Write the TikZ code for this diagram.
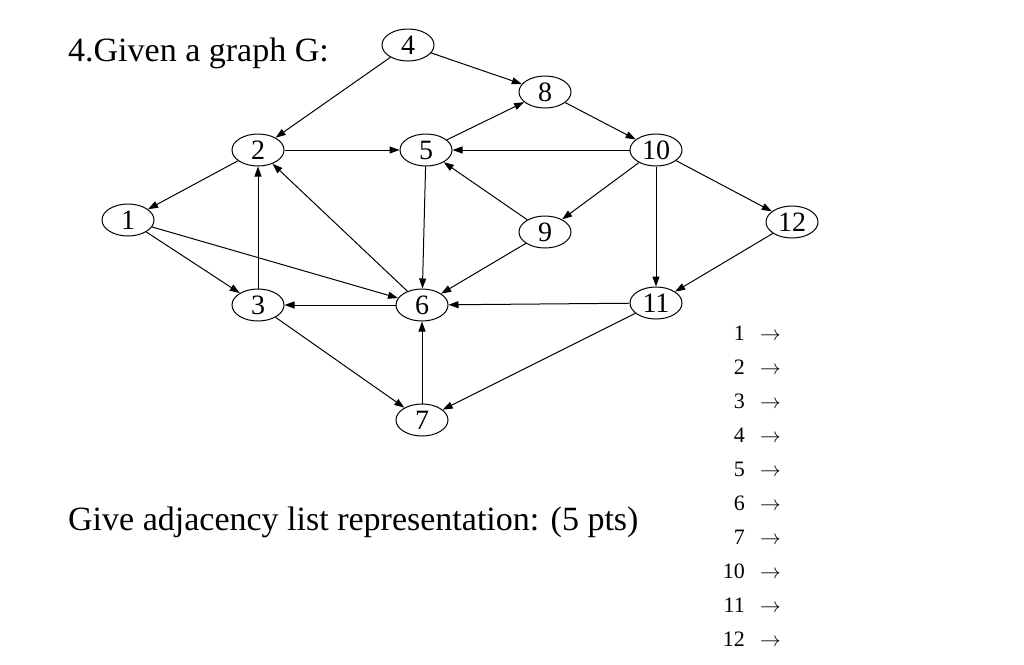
\documentclass[tikz,border=0pt]{standalone}
\usepackage{fontspec}
\setmainfont{Liberation Serif}
\usetikzlibrary{shapes.geometric,arrows.meta}
\begin{document}
\begin{tikzpicture}[x=1pt,y=-1pt,
  v/.style={ellipse,draw,line width=1pt,minimum width=52pt,minimum height=32pt,inner sep=0pt,font=\fontsize{28}{28}\selectfont},
  e/.style={line width=1pt,-{Triangle[length=10pt,width=7pt]}},
  t/.style={font=\fontsize{34}{36}\selectfont,anchor=base west,inner sep=0pt},
  l/.style={font=\fontsize{22}{24}\selectfont,anchor=base east,inner sep=0pt}]
\useasboundingbox (0,0) rectangle (1024,664);
\node[t] (title) at (68,61) {4.Given a graph G:};
\node[t] (give) at (68,530) {Give adjacency list representation: (5 pts)};
\node[v] (n4) at (408,45) {4};
\node[v] (n8) at (545,92) {8};
\node[v] (n2) at (258,150) {2};
\node[v] (n5) at (426,150) {5};
\node[v] (n10) at (656,150) {10};
\node[v] (n1) at (128,220) {1};
\node[v] (n9) at (545,232) {9};
\node[v] (n12) at (792,222) {12};
\node[v] (n3) at (258,305) {3};
\node[v] (n6) at (422,305) {6};
\node[v] (n11) at (656,303) {11};
\node[v] (n7) at (422,420) {7};
\foreach \a/\b in {n4/n2,n4/n8,n5/n8,n8/n10,n2/n5,n10/n5,n2/n1,n1/n3,n1/n6,n3/n2,n6/n2,n5/n6,n9/n5,n9/n6,n10/n9,n10/n12,n10/n11,n12/n11,n11/n6,n6/n3,n3/n7,n7/n6,n11/n7}
  \draw[e] (\a) -- (\b);
\foreach \k/\s in {0/1,1/2,2/3,3/4,4/5,5/6,6/7,7/10,8/11,9/12}{
  \node[l] (r\k) at (745,340+34.1*\k) {\s};
  \node[l,anchor=base west] (a\k) at (760,340+34.1*\k) {$\rightarrow$};
}
\end{tikzpicture}
\end{document}
